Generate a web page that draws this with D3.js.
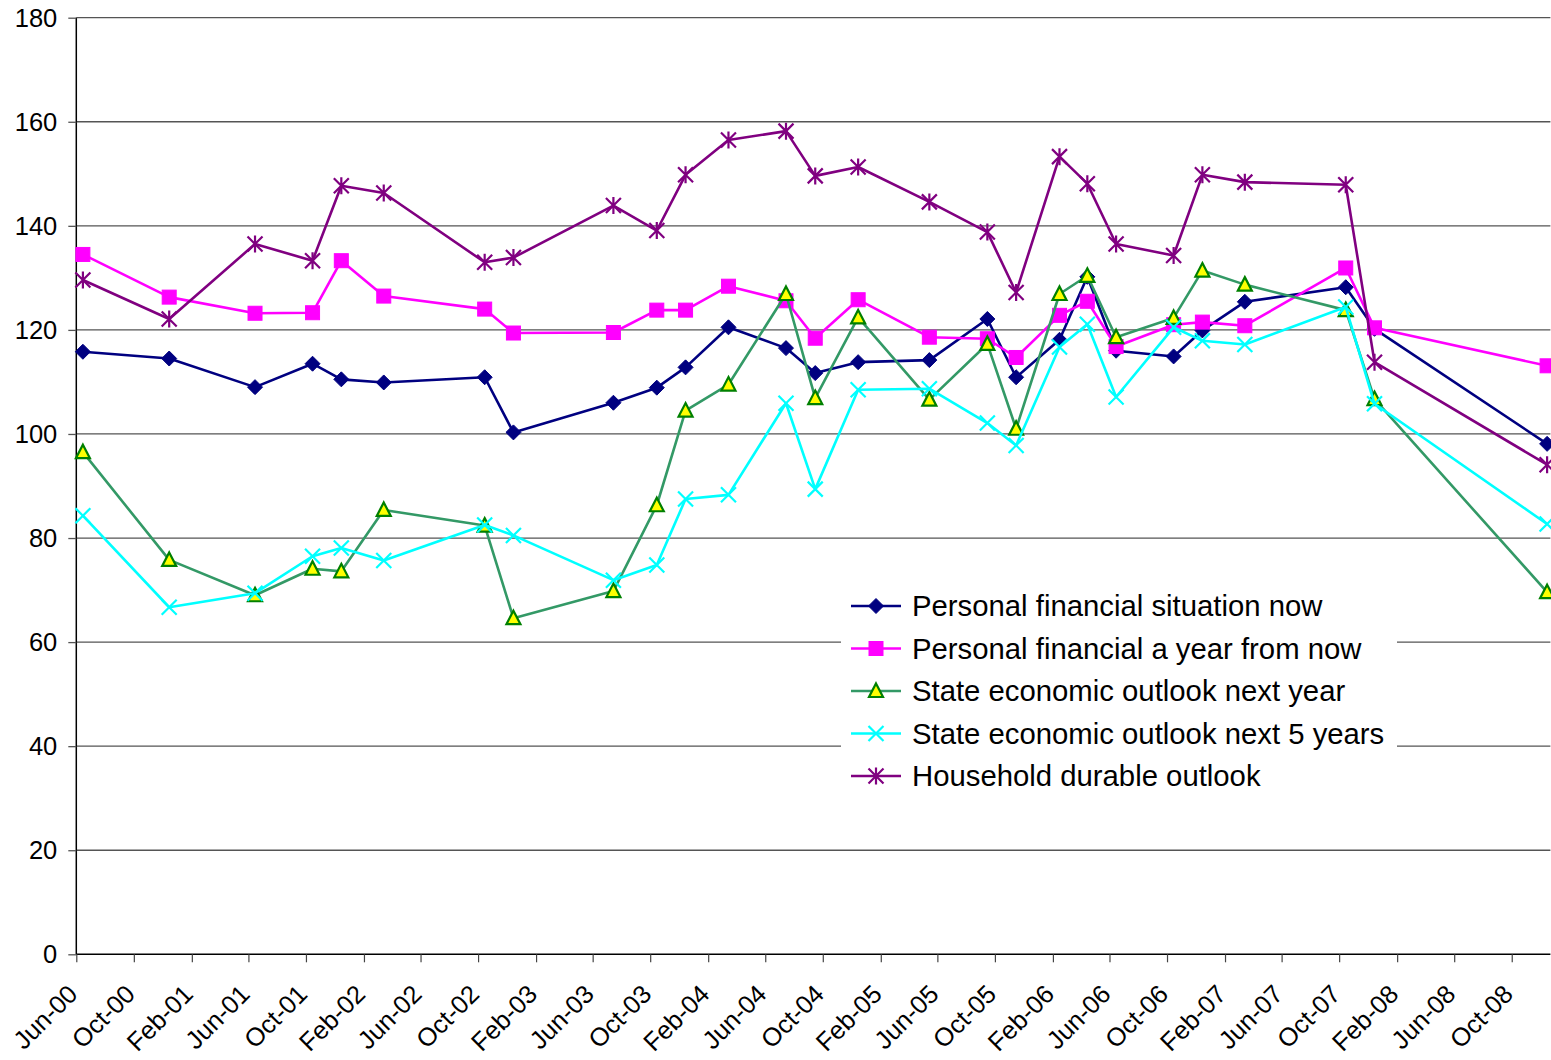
<!DOCTYPE html>
<html>
<head>
<meta charset="utf-8">
<script src="https://cdn.jsdelivr.net/npm/d3@7"></script>
<style>
  html, body { margin: 0; padding: 0; background: #ffffff; }
  svg { display: block; font-family: "Liberation Sans", Arial, sans-serif; }
</style>
</head>
<body>
<svg id="chart" width="1551" height="1060"></svg>
<script>
// ---------------- DATA ----------------
const surveyDates = ["2000-06-15","2000-12-15","2001-06-15","2001-10-15","2001-12-15","2002-03-15",
  "2002-10-15","2002-12-15","2003-07-15","2003-10-15","2003-12-15","2004-03-15","2004-07-15",
  "2004-09-15","2004-12-15","2005-05-15","2005-09-15","2005-11-15","2006-02-15","2006-04-15",
  "2006-06-15","2006-10-15","2006-12-15","2007-03-15","2007-10-15","2007-12-15","2008-12-15"];

const personalNow = [115.8,114.5,109.0,113.5,110.5,109.9,110.9,100.3,106.0,108.9,112.8,120.5,116.5,
  111.7,113.8,114.2,122.1,110.9,118.1,130.2,116.0,114.9,119.9,125.4,128.2,120.2,98.1];

const personalYear = [134.5,126.3,123.2,123.3,133.3,126.5,124.0,119.4,119.5,123.8,123.8,128.4,125.6,
  118.4,125.8,118.6,118.3,114.7,122.8,125.5,116.8,121.0,121.5,120.8,131.9,120.4,113.1];

const stateNextYear = [96.5,75.8,69.0,74.1,73.6,85.4,82.4,64.6,69.8,86.3,104.5,109.5,126.9,
  106.9,122.4,106.6,117.3,101.0,126.9,130.4,118.6,122.3,131.4,128.7,123.8,106.7,69.6];

const stateNext5 = [84.3,66.7,69.4,76.5,78.1,75.7,82.5,80.5,71.9,74.8,87.5,88.3,105.9,
  89.4,108.5,108.7,102.1,97.8,116.7,121.1,107.1,120.5,117.9,117.2,124.4,105.8,82.7];

const householdDurable = [129.6,122.1,136.5,133.3,147.7,146.3,133.0,133.9,143.9,139.1,149.8,156.5,158.2,
  149.6,151.3,144.6,138.8,127.2,153.3,148.1,136.5,134.3,149.8,148.4,147.9,113.8,94.1];

const seriesNames = ["Personal financial situation now","Personal financial a year from now",
  "State economic outlook next year","State economic outlook next 5 years","Household durable outlook"];

const yTicks = [0,20,40,60,80,100,120,140,160,180];
const xDomain = ["2000-06-01","2008-12-22"];
const xTickStart = "2000-06-01", xTickEnd = "2008-10-02", xTickStepMonths = 4;

(function () {
// ---------------- STYLE ----------------
const styles = [
  {color:"#000080", marker:"diamond"},
  {color:"#FF00FF", marker:"square"},
  {color:"#339966", marker:"triangle"},
  {color:"#00FFFF", marker:"cross"},
  {color:"#800080", marker:"asterisk"}
];

const parse = d3.timeParse("%Y-%m-%d");
const dates = surveyDates.map(parse);
const allSeries = [personalNow, personalYear, stateNextYear, stateNext5, householdDurable];

const svg = d3.select("#chart");
const pLeft = 76.3, pRight = 1550.4, pTop = 17.7, pBottom = 954.3;

const x = d3.scaleTime().domain(xDomain.map(parse)).range([pLeft, pRight]);
const y = d3.scaleLinear().domain([0, 180]).range([pBottom, pTop]);

// gridlines
svg.append("g").selectAll("line").data(yTicks.filter(v => v > 0)).join("line")
  .attr("x1", pLeft).attr("x2", pRight)
  .attr("y1", d => y(d)).attr("y2", d => y(d))
  .attr("stroke", "#555").attr("stroke-width", 1.3);

// y axis
const yAxis = svg.append("g").attr("transform", `translate(${pLeft},0)`)
  .call(d3.axisLeft(y).tickValues(yTicks).tickSize(8).tickPadding(11).tickFormat(d3.format("d")));
yAxis.select(".domain").attr("stroke", "#000").attr("stroke-width", 1.5)
  .attr("d", `M0,${pBottom}V${pTop}`);
yAxis.selectAll(".tick line").attr("stroke", "#555").attr("stroke-width", 1.3);
yAxis.selectAll(".tick text").attr("font-size", 25.5).attr("fill", "#000")
  .attr("font-family", '"Liberation Sans", Arial, sans-serif').attr("dy", "0.34em");

// x axis
const xTickVals = d3.timeMonth.range(parse(xTickStart), parse(xTickEnd), xTickStepMonths);
const xAxis = svg.append("g").attr("transform", `translate(0,${pBottom})`)
  .call(d3.axisBottom(x).tickValues(xTickVals).tickSize(8).tickFormat(d3.timeFormat("%b-%y")));
xAxis.select(".domain").attr("stroke", "#000").attr("stroke-width", 1.5)
  .attr("d", `M${pLeft},0H${pRight}`);
xAxis.selectAll(".tick line").attr("stroke", "#444").attr("stroke-width", 1.2);
xAxis.selectAll(".tick text")
  .attr("font-size", 25.5).attr("fill", "#000")
  .attr("font-family", '"Liberation Sans", Arial, sans-serif')
  .attr("text-anchor", "end")
  .attr("y", 0).attr("dy", "0.35em")
  .attr("transform", "translate(-4,35) rotate(-45)");

// markers
function drawMarker(g, type, color, cx, cy) {
  const s = 7.5;
  if (type === "diamond") {
    g.append("path").attr("d", `M${cx},${cy-s}L${cx+s},${cy}L${cx},${cy+s}L${cx-s},${cy}Z`)
      .attr("fill", color).attr("stroke", color).attr("stroke-width", 1);
  } else if (type === "square") {
    g.append("rect").attr("x", cx-7).attr("y", cy-7).attr("width", 14).attr("height", 14)
      .attr("fill", color).attr("stroke", color).attr("stroke-width", 1);
  } else if (type === "triangle") {
    g.append("path").attr("d", `M${cx},${cy-7.5}L${cx+7},${cy+6}L${cx-7},${cy+6}Z`)
      .attr("fill", "#FFFF00").attr("stroke", "#008000").attr("stroke-width", 2.2)
      .attr("stroke-linejoin", "miter");
  } else if (type === "cross") {
    g.append("path").attr("d", `M${cx-s},${cy-s}L${cx+s},${cy+s}M${cx-s},${cy+s}L${cx+s},${cy-s}`)
      .attr("stroke", color).attr("stroke-width", 2.2).attr("fill", "none");
  } else if (type === "asterisk") {
    g.append("path").attr("d", `M${cx-s},${cy-s}L${cx+s},${cy+s}M${cx-s},${cy+s}L${cx+s},${cy-s}M${cx},${cy-s-1}L${cx},${cy+s+1}`)
      .attr("stroke", color).attr("stroke-width", 2.2).attr("fill", "none");
  }
}

const line = d3.line().x(d => x(d[0])).y(d => y(d[1]));

allSeries.forEach((vals, i) => {
  const st = styles[i];
  const pts = dates.map((d, j) => [d, vals[j]]);
  const g = svg.append("g");
  g.append("path").datum(pts).attr("d", line)
    .attr("fill", "none").attr("stroke", st.color).attr("stroke-width", 2.6)
    .attr("stroke-linejoin", "round");
  pts.forEach(p => drawMarker(g, st.marker, st.color, x(p[0]), y(p[1])));
});

// legend
const lg = svg.append("g");
lg.append("rect").attr("x", 841).attr("y", 585).attr("width", 556).attr("height", 212).attr("fill", "#fff");
seriesNames.forEach((name, i) => {
  const st = styles[i];
  const cy = 606 + i * 42.5;
  lg.append("line").attr("x1", 851).attr("x2", 901).attr("y1", cy).attr("y2", cy)
    .attr("stroke", st.color).attr("stroke-width", 2.6);
  drawMarker(lg, st.marker, st.color, 876, cy);
  lg.append("text").attr("x", 912).attr("y", cy).attr("dy", "0.35em")
    .attr("font-size", 29.3).attr("fill", "#000").text(name);
});
})();
</script>
</body>
</html>
